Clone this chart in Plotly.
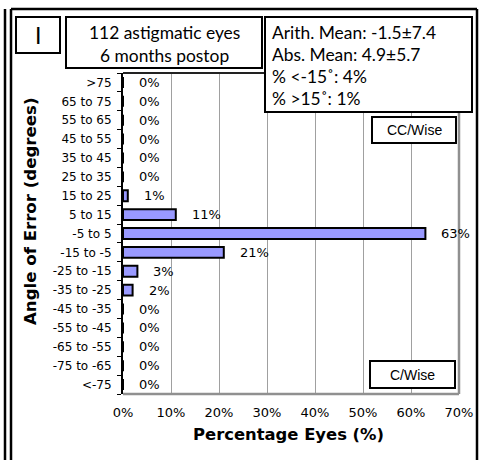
import plotly.graph_objects as go

categories = [">75", "65 to 75", "55 to 65", "45 to 55", "35 to 45", "25 to 35",
              "15 to 25", "5 to 15", "-5 to 5", "-15 to -5", "-25 to -15",
              "-35 to -25", "-45 to -35", "-55 to -45", "-65 to -55", "-75 to -65", "<-75"]
percent_eyes = [0, 0, 0, 0, 0, 0, 1, 11, 63, 21, 3, 2, 0, 0, 0, 0, 0]
x_ticks = [0, 10, 20, 30, 40, 50, 60, 70]
x_tick_labels = ["0%", "10%", "20%", "30%", "40%", "50%", "60%", "70%"]

panel_label = "I"
title_lines = ["112 astigmatic eyes", "6 months postop"]
stats_lines = ["Arith. Mean: -1.5±7.4", "Abs. Mean: 4.9±5.7", "% <-15˚: 4%", "% >15˚: 1%"]

W, H = 482, 460
L, R, T, B = 123, 459, 73, 394


def px(x):
    return (x - L) / (R - L)


def py(y):
    return (B - y) / (B - T)


fig = go.Figure()
fig.add_trace(go.Bar(
    x=percent_eyes, y=categories, orientation="h",
    marker=dict(color="#9999FF", line=dict(color="black", width=2)),
    width=0.58, showlegend=False, hoverinfo="skip",
))

annotations = []
for c, v in zip(categories, percent_eyes):
    annotations.append(dict(x=v, y=c, xref="x", yref="y", text=f"{v}%", showarrow=False,
                            xanchor="left", yanchor="middle", xshift=14,
                            font=dict(family="DejaVu Sans", size=13, color="black")))

shapes = []
# outer frames
frame = dict(color="black", width=2.5)
shapes.append(dict(type="line", xref="paper", yref="paper", x0=px(5), x1=px(5), y0=py(9), y1=py(470), line=frame))
shapes.append(dict(type="line", xref="paper", yref="paper", x0=px(11), x1=px(11), y0=py(9), y1=py(470), line=frame))
shapes.append(dict(type="line", xref="paper", yref="paper", x0=px(11), x1=px(477), y0=py(9), y1=py(9), line=frame))
shapes.append(dict(type="line", xref="paper", yref="paper", x0=px(477), x1=px(477), y0=py(9), y1=py(470), line=frame))
# plot area borders
shapes.append(dict(type="line", xref="paper", yref="paper", x0=0, x1=1, y0=0, y1=0,
                   line=dict(color="#909090", width=2.5), layer="above"))
shapes.append(dict(type="line", xref="paper", yref="paper", x0=1, x1=1, y0=0, y1=1,
                   line=dict(color="#909090", width=2.5), layer="above"))
shapes.append(dict(type="line", xref="paper", yref="paper", x0=0, x1=1, y0=1, y1=1,
                   line=dict(color="#222222", width=2), layer="above"))


def box(x0, y0, x1, y1):
    shapes.append(dict(type="rect", xref="paper", yref="paper", x0=px(x0), x1=px(x1), y0=py(y0), y1=py(y1),
                       line=dict(color="black", width=2), fillcolor="white", layer="above"))


def label(x, y, text, font, xanchor="center", angle=0):
    annotations.append(dict(x=px(x), y=py(y), xref="paper", yref="paper", text=text, showarrow=False,
                            xanchor=xanchor, yanchor="middle", textangle=angle, font=font))


box(16, 17, 60, 53)
box(66, 17, 262, 68)
box(265, 17, 472, 112)
box(372, 117, 456, 143)
box(370, 361, 455, 388)

box_font = dict(family="Lato", size=17.4, color="black")
label(38, 35, panel_label, dict(family="Lato", size=23, color="black"))
label(164, 32, title_lines[0], box_font)
label(164, 55, title_lines[1], box_font)
for i, s in enumerate(stats_lines):
    label(270, 32 + 22.3 * i, s, dict(family="Lato", size=17.4, color="black"), xanchor="left")
label(414, 130, "CC/Wise", dict(family="Liberation Sans", size=14, color="black"))
label(412.5, 375, "C/Wise", dict(family="Liberation Sans", size=14, color="black"))
# axis titles
label(30, 212, "<b>Angle of Error (degrees)</b>", dict(family="DejaVu Sans", size=16.6, color="black"), angle=-90)
label(288, 435, "<b>Percentage Eyes (%)</b>", dict(family="DejaVu Sans", size=16.4, color="black"))

fig.update_layout(
    width=W, height=H,
    margin=dict(l=L, r=W - R, t=T, b=H - B, autoexpand=False),
    paper_bgcolor="white", plot_bgcolor="white",
    shapes=shapes, annotations=annotations,
    xaxis=dict(range=[0, 70], tickvals=x_ticks, ticktext=x_tick_labels,
               showgrid=True, gridcolor="#a0a0a0", gridwidth=1, zeroline=False,
               showline=False, ticks="", ticklabelstandoff=9,
               tickfont=dict(family="DejaVu Sans", size=13, color="black")),
    yaxis=dict(categoryorder="array", categoryarray=categories[::-1], range=[-0.5, len(categories) - 0.5],
               showgrid=False, zeroline=False, showline=True, linecolor="black", linewidth=2,
               ticks="outside", ticklen=4, tickcolor="black", tickwidth=1, tickson="boundaries",
               ticklabelstandoff=7,
               tickfont=dict(family="DejaVu Sans", size=12, color="black")),
)

fig.write_html("out.html", config={"displayModeBar": False},
               post_script="document.body.style.margin='0px';document.body.style.overflow='hidden';")
